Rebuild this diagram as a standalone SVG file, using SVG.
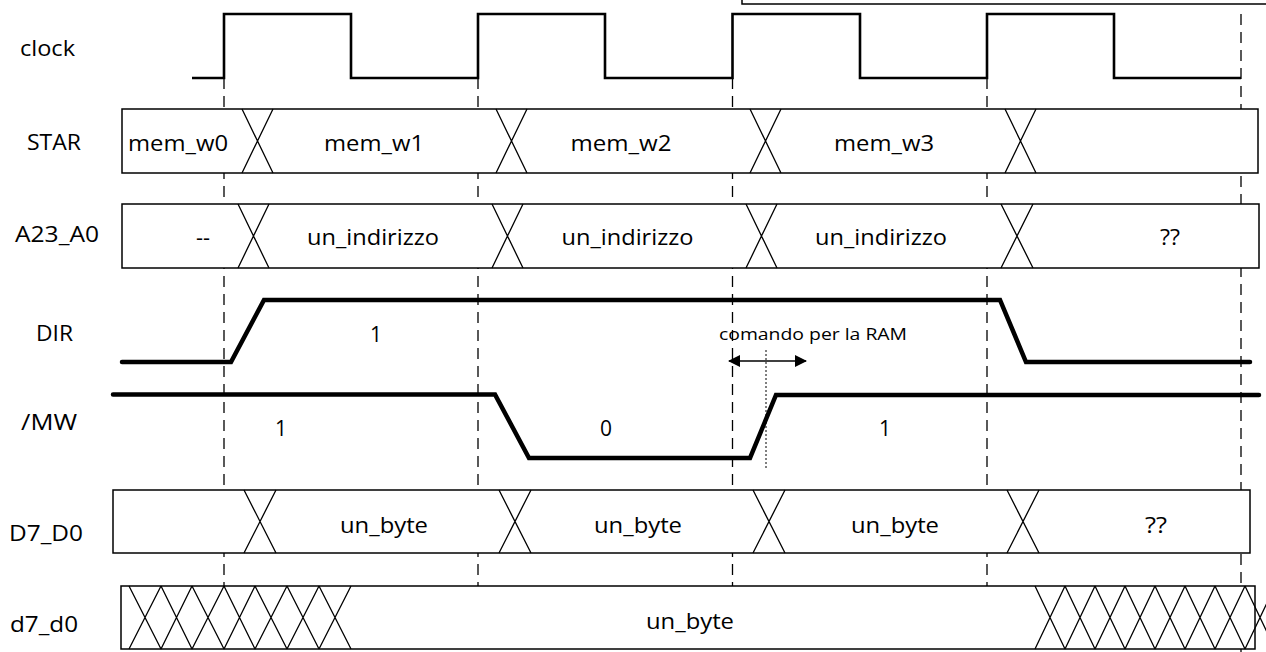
<svg xmlns="http://www.w3.org/2000/svg" width="1266" height="652" viewBox="0 0 1266 652">
<style>
text{font-family:"Open Sans","Liberation Sans",sans-serif;font-size:21px;fill:#000}
.lbl{text-anchor:middle}
.guide{stroke:#000;stroke-width:1.3;stroke-dasharray:11 7;fill:none}
.clk{stroke:#000;stroke-width:2.6;fill:none;stroke-linejoin:miter}
.bus{stroke:#000;stroke-width:1.5;fill:#fff}
.x{stroke:#000;stroke-width:1.3;fill:none}
.thick{stroke:#000;stroke-width:4.5;fill:none;stroke-linecap:round;stroke-linejoin:miter}
.small{font-size:16px}
</style>
<defs>
<marker id="ah" viewBox="0 0 12 12" refX="11" refY="6" markerWidth="12" markerHeight="12" markerUnits="userSpaceOnUse" orient="auto-start-reverse">
<path d="M0,0 L12,6 L0,12 Z" fill="#000"/>
</marker>
</defs>
<rect width="1266" height="652" fill="#fff"/>

<g id="connectors">
<line class="guide" x1="224" y1="78" x2="224" y2="652"/>
<line class="guide" x1="478" y1="78" x2="478" y2="652"/>
<line class="guide" x1="732.5" y1="78" x2="732.5" y2="652"/>
<line class="guide" x1="987" y1="78" x2="987" y2="652"/>
<line class="guide" x1="1241" y1="14" x2="1241" y2="652"/>
</g>

<g id="topbox">
<polyline points="742,0 742,4 1266,4" fill="none" stroke="#000" stroke-width="1.5"/>
</g>

<g id="clock">
<text class="lbl" x="47.5" y="56" textLength="55" lengthAdjust="spacingAndGlyphs">clock</text>
<polyline class="clk" points="192,78 224,78 224,14 351,14 351,78 478,78 478,14 605,14 605,78 732.5,78 732.5,14 860,14 860,78 987,78 987,14 1114,14 1114,78 1241,78"/>
</g>

<g id="STAR">
<text class="lbl" x="54" y="150" textLength="54" lengthAdjust="spacingAndGlyphs">STAR</text>
<rect class="bus" x="122" y="109" width="1136" height="64"/>
<path class="x" d="M242,109 L273,173 M273,109 L242,173 M496,109 L527,173 M527,109 L496,173 M750,109 L781,173 M781,109 L750,173 M1005,109 L1036,173 M1036,109 L1005,173"/>
<text class="lbl" x="178" y="151" textLength="100" lengthAdjust="spacingAndGlyphs">mem_w0</text>
<text class="lbl" x="374" y="151" textLength="100" lengthAdjust="spacingAndGlyphs">mem_w1</text>
<text class="lbl" x="621" y="151" textLength="101" lengthAdjust="spacingAndGlyphs">mem_w2</text>
<text class="lbl" x="884" y="151" textLength="100" lengthAdjust="spacingAndGlyphs">mem_w3</text>
</g>

<g id="A23_A0">
<text class="lbl" x="57" y="241.5" textLength="84" lengthAdjust="spacingAndGlyphs">A23_A0</text>
<rect class="bus" x="122" y="204" width="1137" height="64"/>
<path class="x" d="M238,204 L269,268 M269,204 L238,268 M492,204 L523,268 M523,204 L492,268 M746,204 L777,268 M777,204 L746,268 M1001,204 L1033,268 M1033,204 L1001,268"/>
<text class="lbl" x="203" y="245" textLength="14" lengthAdjust="spacingAndGlyphs">--</text>
<text class="lbl" x="373" y="245" textLength="132" lengthAdjust="spacingAndGlyphs">un_indirizzo</text>
<text class="lbl" x="627.5" y="245" textLength="132" lengthAdjust="spacingAndGlyphs">un_indirizzo</text>
<text class="lbl" x="881" y="245" textLength="132" lengthAdjust="spacingAndGlyphs">un_indirizzo</text>
<text class="lbl" x="1170" y="245" textLength="20" lengthAdjust="spacingAndGlyphs">??</text>
</g>

<g id="DIR">
<text class="lbl" x="54.5" y="340.5" textLength="37" lengthAdjust="spacingAndGlyphs">DIR</text>
<polyline class="thick" points="122,362 231,362 264,300 1000,300 1026,362 1250,362"/>
<text class="lbl" x="376" y="341.5">1</text>
</g>

<g id="MW">
<text class="lbl" x="49" y="430" textLength="56" lengthAdjust="spacingAndGlyphs">/MW</text>
<polyline class="thick" points="113,394.5 495,394.5 529,458 750,458 776,395 1259,395"/>
<text class="lbl" x="281" y="436">1</text>
<text class="lbl" x="606" y="436">0</text>
<text class="lbl" x="885" y="436">1</text>
</g>

<g id="annotation">
<text class="small" x="719" y="340" textLength="188" lengthAdjust="spacingAndGlyphs">comando per la RAM</text>
<line x1="729" y1="361" x2="806" y2="361" stroke="#000" stroke-width="1.5" marker-start="url(#ah)" marker-end="url(#ah)"/>
<line x1="766" y1="350" x2="766" y2="470" stroke="#000" stroke-width="1" stroke-dasharray="2 2"/>
</g>

<g id="D7_D0">
<text class="lbl" x="46" y="540.5" textLength="74" lengthAdjust="spacingAndGlyphs">D7_D0</text>
<rect class="bus" x="113" y="490" width="1137" height="63"/>
<path class="x" d="M244,490 L276,553 M276,490 L244,553 M499,490 L531,553 M531,490 L499,553 M753,490 L785,553 M785,490 L753,553 M1007,490 L1039,553 M1039,490 L1007,553"/>
<text class="lbl" x="384" y="533" textLength="88" lengthAdjust="spacingAndGlyphs">un_byte</text>
<text class="lbl" x="638" y="533" textLength="88" lengthAdjust="spacingAndGlyphs">un_byte</text>
<text class="lbl" x="895" y="533" textLength="88" lengthAdjust="spacingAndGlyphs">un_byte</text>
<text class="lbl" x="1156" y="533" textLength="22" lengthAdjust="spacingAndGlyphs">??</text>
</g>

<g id="d7_d0">
<text class="lbl" x="44" y="632" textLength="68" lengthAdjust="spacingAndGlyphs">d7_d0</text>
<rect class="bus" x="121" y="586" width="1134" height="63"/>
<path class="x" d="M129,586 L161,649 M161,586 L129,649 M161,586 L192,649 M192,586 L161,649 M192,586 L224,649 M224,586 L192,649 M224,586 L255,649 M255,586 L224,649 M255,586 L287,649 M287,586 L255,649 M287,586 L319,649 M319,586 L287,649 M319,586 L351,649 M351,586 L319,649"/>
<path class="x" d="M1035,586 L1065,649 M1065,586 L1035,649 M1065,586 L1095,649 M1095,586 L1065,649 M1095,586 L1125,649 M1125,586 L1095,649 M1125,586 L1155,649 M1155,586 L1125,649 M1155,586 L1185,649 M1185,586 L1155,649 M1185,586 L1215,649 M1215,586 L1185,649 M1215,586 L1245,649 M1245,586 L1215,649 M1245,586 L1275,649 M1275,586 L1245,649"/>
<text class="lbl" x="690" y="629" textLength="88" lengthAdjust="spacingAndGlyphs">un_byte</text>
</g>
</svg>
